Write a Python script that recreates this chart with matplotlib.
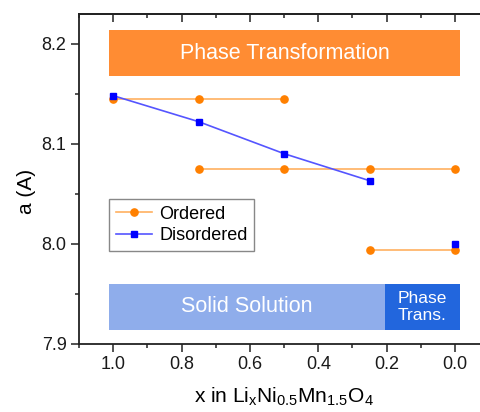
import matplotlib.pyplot as plt
from matplotlib.ticker import MultipleLocator
from matplotlib.patches import Rectangle

plt.rcParams['font.family'] = ['Liberation Sans', 'DejaVu Sans']
plt.rcParams['mathtext.fontset'] = 'custom'
plt.rcParams['mathtext.rm'] = 'Liberation Sans'

# ordered phase: three separate lattice-parameter branches
ord_x1 = [1.0, 0.75, 0.5]
ord_a1 = [8.145, 8.145, 8.145]
ord_x2 = [0.75, 0.5, 0.25, 0.0]
ord_a2 = [8.075, 8.075, 8.075, 8.075]
ord_x3 = [0.25, 0.0]
ord_a3 = [7.994, 7.994]

# disordered phase
dis_x = [1.0, 0.75, 0.5, 0.25]
dis_a = [8.148, 8.122, 8.090, 8.063]
dis_x_end = [0.0]
dis_a_end = [8.000]

xticks = [1.0, 0.8, 0.6, 0.4, 0.2, 0.0]
xtick_labels = ['1.0', '0.8', '0.6', '0.4', '0.2', '0.0']

orange = '#ff8000'
orange_line = '#ffb060'
blue = '#0000ff'
blue_line = '#5555ff'
dark = '#222222'

fig = plt.figure(figsize=(4.81, 4.12), dpi=100)
ax = fig.add_axes([0.1645, 0.1658, 0.8524, 0.801])

# shaded region bands
ax.add_patch(Rectangle((-0.0146, 8.1673), 1.0263, 0.046, color='#ff8c33', lw=0, zorder=1))
ax.add_patch(Rectangle((0.205, 7.9134), 0.8067, 0.0466, color='#8fadeb', lw=0, zorder=1))
ax.add_patch(Rectangle((-0.0146, 7.9134), 0.2196, 0.0466, color='#2266dd', lw=0, zorder=1))
ax.text(0.4985, 8.1903, 'Phase Transformation', color='white', fontsize=15.5,
        ha='center', va='center', zorder=2)
ax.text(0.608, 7.9367, 'Solid Solution', color='white', fontsize=15.5,
        ha='center', va='center', zorder=2)
ax.text(0.095, 7.9367, 'Phase\nTrans.', color='white', fontsize=12.5,
        ha='center', va='center', linespacing=1.15, zorder=2)

mk_o = dict(color=orange_line, marker='o', ms=5.2, mfc=orange, mec=orange, lw=1.2, zorder=3)
mk_b = dict(color=blue_line, marker='s', ms=4.6, mfc=blue, mec=blue, lw=1.2, zorder=4)
ax.plot(ord_x1, ord_a1, label='Ordered', **mk_o)
ax.plot(ord_x2, ord_a2, **mk_o)
ax.plot(ord_x3, ord_a3, **mk_o)
ax.plot(dis_x, dis_a, label='Disordered', **mk_b)
ax.plot(dis_x_end, dis_a_end, **mk_b)

ax.set_xlim(1.1, -0.1)
ax.set_ylim(7.9, 8.23)
ax.set_xticks(xticks)
ax.set_xticklabels(xtick_labels)
ax.xaxis.set_minor_locator(MultipleLocator(0.1))
ax.yaxis.set_major_locator(MultipleLocator(0.1))
ax.yaxis.set_minor_locator(MultipleLocator(0.05))
ax.tick_params(axis='both', which='major', labelsize=13, width=1.1, length=5.5,
               color=dark, labelcolor='#1a1a1a', direction='out')
ax.tick_params(axis='both', which='minor', width=1.1, length=3, color=dark, direction='out')
for sp in ax.spines.values():
    sp.set_linewidth(1.3)
    sp.set_color(dark)

# top axis: ticks pointing inwards, no labels
top = ax.secondary_xaxis('top')
top.set_xticks(xticks)
top.xaxis.set_minor_locator(MultipleLocator(0.1))
top.tick_params(which='major', direction='in', length=5.5, width=1.1, color=dark, labeltop=False)
top.tick_params(which='minor', direction='in', length=3, width=1.1, color=dark)
top.spines['top'].set_linewidth(1.3)
top.spines['top'].set_color(dark)

ax.set_ylabel('a (A)', fontsize=15)
ax.yaxis.set_label_coords(-0.105, 0.46)
ax.set_xlabel(r'x in Li$_\mathregular{x}$Ni$_\mathregular{0.5}$Mn$_\mathregular{1.5}$O$_\mathregular{4}$',
              fontsize=15, labelpad=9)

ax.legend(loc='upper left', bbox_to_anchor=(0.074, 0.437), fontsize=13, frameon=True,
          fancybox=False, edgecolor='#888888', framealpha=1, borderpad=0.35,
          handlelength=2.0, handletextpad=0.4, labelspacing=0.25, borderaxespad=0)

fig.savefig('out.png', dpi=100)
